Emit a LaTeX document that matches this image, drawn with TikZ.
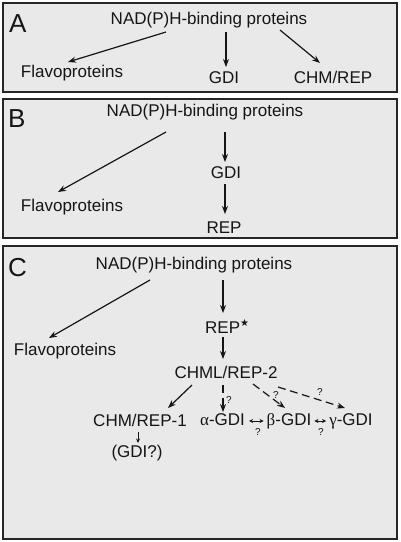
\documentclass[tikz,border=0pt]{standalone}
\usepackage{fontspec}
\setmainfont{Liberation Sans}
\newfontfamily\greekserif{Liberation Serif}
\newfontfamily\symfont{DejaVu Sans}
\usetikzlibrary{arrows.meta}
\definecolor{panelfill}{HTML}{E9E9E9}
\definecolor{panelline}{HTML}{262626}
\definecolor{inkc}{HTML}{151515}
\tikzset{
  x=1pt, y=-1pt,
  panel/.style={draw=panelline, fill=panelfill, line width=1.4pt},
  lbl/.style={inner sep=0pt, text=inkc, font=\fontsize{17}{20}\selectfont},
  plabel/.style={inner sep=0pt, text=inkc, font=\fontsize{26}{30}\selectfont},
  qm/.style={inner sep=0pt, text=inkc, font=\fontsize{10}{12}\selectfont},
  arr/.style={draw=inkc, line width=1.2pt, -{Stealth[length=8pt,width=6pt]}},
  smallarr/.style={draw=inkc, line width=1pt, -{Stealth[length=4.5pt,width=4pt]}},
  darr/.style={arr, dash pattern=on 8pt off 4.5pt},
  sarr/.style={draw=inkc, line width=0.9pt, {Stealth[length=4pt,width=4pt]}-{Stealth[length=4pt,width=4pt]}}
}
\begin{document}
\begin{tikzpicture}
\useasboundingbox (0,0) rectangle (400,542);
\fill[white] (0,0) rectangle (400,542);
% panels
\draw[panel] (3,3) rectangle (397,92);
\draw[panel] (3,99) rectangle (397,238);
\draw[panel] (3,246) rectangle (397,539);

% ---- Panel A
\node[plabel, anchor=base west] (labA) at (9,32) {A};
\node[lbl, anchor=base] (nadA) at (209,24) {NAD(P)H-binding proteins};
\node[lbl, anchor=base] (flavA) at (72,77) {Flavoproteins};
\node[lbl, anchor=base] (gdiA) at (224,83) {GDI};
\node[lbl, anchor=base] (chmA) at (333,83) {CHM/REP};
\draw[arr] ([shift={(-43,8)}]nadA.base) -- ([shift={(-4,-15)}]flavA.base);
\draw[arr] ([shift={(17,8)}]nadA.base) -- ([shift={(2,-16)}]gdiA.base);
\draw[arr] ([shift={(71,6)}]nadA.base) -- ([shift={(-13,-20)}]chmA.base);

% ---- Panel B
\node[plabel, anchor=base west] (labB) at (8,127) {B};
\node[lbl, anchor=base] (nadB) at (205,116) {NAD(P)H-binding proteins};
\node[lbl, anchor=base] (flavB) at (72,211) {Flavoproteins};
\node[lbl, anchor=base] (gdiB) at (226,178) {GDI};
\node[lbl, anchor=base] (repB) at (224,233) {REP};
\draw[arr] ([shift={(-39,16)}]nadB.base) -- ([shift={(-14,-19)}]flavB.base);
\draw[arr] ([shift={(20,16)}]nadB.base) -- ([shift={(-1,-16)}]gdiB.base);
\draw[arr] ([shift={(-1,6)}]gdiB.base) -- ([shift={(1,-19)}]repB.base);

% ---- Panel C
\node[plabel, anchor=base west] (labC) at (8,276) {C};
\node[lbl, anchor=base] (nadC) at (194,269) {NAD(P)H-binding proteins};
\node[lbl, anchor=base] (flavC) at (65,355) {Flavoproteins};
\node[lbl, anchor=base west] (repC) at (205,333) {REP\raisebox{7pt}{\fontsize{10}{10}\symfont ★}};
\node[lbl, anchor=base] (chml) at (226,378) {CHML/REP-2};
\node[lbl, anchor=base] (chm1) at (140,426) {CHM/REP-1};
\node[lbl, anchor=base] (gdiq) at (137,457) {(GDI?)};
\node[lbl, anchor=base] (alpha) at (222.5,425) {{\greekserif α}-GDI};
\node[lbl, anchor=base] (beta) at (289,425) {{\greekserif β}-GDI};
\node[lbl, anchor=base] (gamma) at (351,425) {{\greekserif γ}-GDI};

\draw[arr] ([shift={(-44,11)}]nadC.base) -- ([shift={(-16,-17)}]flavC.base);
\draw[arr] ([shift={(29,11)}]nadC.base) -- ([shift={(18,-20)}]repC.base west);
\draw[arr] ([shift={(18,4)}]repC.base west) -- ([shift={(-3,-19)}]chml.base);
\draw[arr] ([shift={(-34,7)}]chml.base) -- ([shift={(28,-18)}]chm1.base);
\draw[smallarr] ([shift={(-2,6)}]chm1.base) -- ([shift={(1,-14)}]gdiq.base);
\draw[darr] ([shift={(-3,7)}]chml.base) -- ([shift={(0.5,-13)}]alpha.base);
\draw[darr] ([shift={(27,6)}]chml.base) -- ([shift={(-4,-17)}]beta.base);
\draw[darr] ([shift={(52,9)}]chml.base) -- ([shift={(-6,-17)}]gamma.base);
\node[qm] (q1) at (229,400) {?};
\node[qm] (q2) at (276,395) {?};
\node[qm] (q3) at (320,392) {?};
\draw[sarr] ([shift={(4,-4)}]alpha.base east) -- ([shift={(-3,-4)}]beta.base west);
\draw[sarr] ([shift={(3,-4)}]beta.base east) -- ([shift={(-3,-4)}]gamma.base west);
\node[qm] (q4) at (258,432) {?};
\node[qm] (q5) at (321,432) {?};
\end{tikzpicture}
\end{document}
